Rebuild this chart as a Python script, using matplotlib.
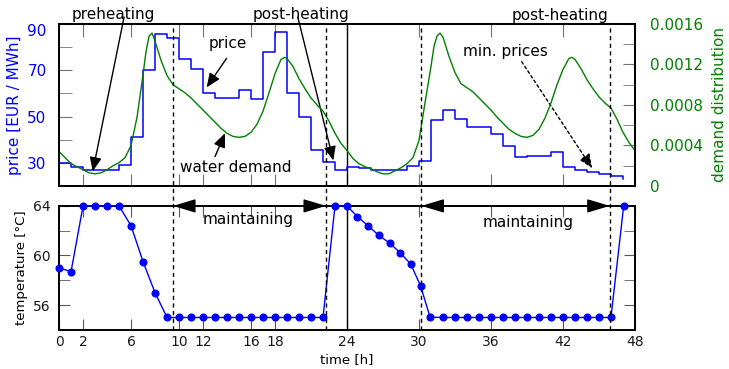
import numpy as np
import matplotlib
matplotlib.use("Agg")
import matplotlib.pyplot as plt
from matplotlib.lines import Line2D
from matplotlib.transforms import blended_transform_factory

# hourly electricity price (step held from each hour to the next)
price_hours = list(range(48))
price = [30, 28, 26.7, 27, 27, 29, 41, 70, 85.5, 84, 75, 70.4, 60, 58, 58, 61.4,
         57.7, 77.7, 86.4, 60, 50, 35.6, 30.4, 27,
         28.1, 27.8, 27.1, 26.7, 27.1, 28.5, 30.7, 48.6, 52.9, 49.1, 45.4, 45.4,
         42.3, 37.2, 32.6, 32.9, 32.9, 34.8, 28.3, 27.1, 25.9, 25.1, 24.5, 22.8]

# hot water demand distribution
demand_t = [0, 0.5, 1, 1.5, 2, 2.5, 3, 3.5, 4, 4.5, 5, 5.5, 6, 6.5, 7, 7.25, 7.5,
            7.75, 8, 8.5, 9, 9.5, 10, 10.5, 11, 11.5, 12, 12.5, 13, 13.5, 14, 14.5,
            15, 15.5, 16, 16.5, 17, 17.5, 18, 18.5, 18.8, 19, 19.5, 20, 20.5, 21,
            21.5, 22, 22.5, 23, 23.5,
            24, 24.5, 25, 25.5, 26, 26.5, 27, 27.5, 28, 28.5, 29, 29.5, 30, 30.5,
            31, 31.25, 31.5, 31.75, 32, 32.5, 33, 33.5, 34, 34.5, 35, 35.5, 36,
            36.5, 37, 37.5, 38, 38.5, 39, 39.5, 40, 40.5, 41, 41.5, 42, 42.5,
            42.75, 43, 43.5, 44, 44.5, 45, 45.5, 46, 46.5, 47, 47.5, 48]
demand = [0.00034, 0.00028, 0.00022, 0.00019, 0.00016, 0.00013, 0.00012, 0.00013,
          0.00016, 0.00020, 0.00023, 0.00028, 0.00040, 0.00068, 0.00110, 0.00133,
          0.00148, 0.00151, 0.00143, 0.00124, 0.00109, 0.00100, 0.00096, 0.00092,
          0.00087, 0.00081, 0.00075, 0.00069, 0.00063, 0.00057, 0.00052, 0.00049,
          0.00048, 0.00049, 0.00053, 0.00061, 0.00074, 0.00092, 0.00111, 0.00125,
          0.00127, 0.00126, 0.00118, 0.00106, 0.00096, 0.00087, 0.00080, 0.00074,
          0.00064, 0.00052, 0.00042,
          0.00035, 0.00027, 0.00022, 0.00019, 0.00017, 0.00014, 0.00012, 0.00012,
          0.00015, 0.00018, 0.00022, 0.00028, 0.00045, 0.00082, 0.00118, 0.00138,
          0.00148, 0.00151, 0.00147, 0.00128, 0.00112, 0.00101, 0.00097, 0.00093,
          0.00087, 0.00081, 0.00075, 0.00068, 0.00062, 0.00056, 0.00052, 0.00049,
          0.00048, 0.00050, 0.00056, 0.00067, 0.00082, 0.00100, 0.00115, 0.00126,
          0.00127, 0.00125, 0.00116, 0.00105, 0.00096, 0.00088, 0.00082, 0.00077,
          0.00066, 0.00053, 0.00043, 0.00035]

# storage temperature
temp_t = list(range(25)) + [24.86, 25.78, 26.64, 27.58, 28.42, 29.31, 30.14, 30.92] \
    + list(range(32, 47)) + [47.06]
temp = [59, 58.7, 64, 64, 64, 64, 62.4, 59.5, 57] + [55] * 14 + [64, 64] \
    + [63.14, 62.38, 61.63, 60.98, 60.23, 59.31, 57.53, 55.03] + [55] * 15 + [64]

# boundaries of the maintaining periods
maint_start = [9.5, 30.2]
maint_end = [22.25, 45.9]

fig = plt.figure(figsize=(7.29, 3.69), dpi=100)
ax1 = fig.add_axes([0.081, 0.496, 0.790, 0.439])
ax3 = fig.add_axes([0.081, 0.106, 0.790, 0.336])
ax2 = ax1.twinx()

blue = (0, 0, 1)
green = "#008000"

ax1.step(price_hours, price, where="post", color=blue, lw=1.1, zorder=3)
ax2.plot(demand_t, demand, color=green, lw=1.0)

ax1.set_xlim(0, 48)
ax1.set_ylim(20, 90)
ax2.set_ylim(0, 0.0016)
ax1.set_yticks([30, 50, 70, 90])
ax1.set_yticklabels(["30", "50", "70", ""])
ax1.set_yticks([40, 60, 80], minor=True)
ax2.set_yticks([0, 0.0004, 0.0008, 0.0012, 0.0016])
ax2.set_yticklabels(["0", "0.0004", "0.0008", "0.0012", "0.0016"])
ax2.set_yticks([0.0002, 0.0006, 0.0010, 0.0014], minor=True)

# top label of the price axis sits a little below its tick
ax1.annotate("90", xy=(0, 90), xycoords=ax1.get_yaxis_transform(),
             xytext=(-12.5, -7.5), textcoords="offset pixels",
             ha="right", va="center", color=blue, fontsize=11)

xt = [0, 2, 6, 10, 12, 16, 18, 24, 30, 36, 42, 48]
ax1.set_xticks(xt)
ax1.set_xticklabels([])
ax1.set_ylabel("price [EUR / MWh]", color=blue, fontsize=11, labelpad=4)
ax2.set_ylabel("demand distribution", color=green, fontsize=11, labelpad=6)
ax1.tick_params(axis="y", which="both", colors="0.45", labelcolor=blue,
                labelsize=11, direction="in", length=9, pad=9, left=True, right=False)
ax2.tick_params(axis="y", which="both", colors="0.45", labelcolor=green,
                labelsize=11, direction="in", length=9, pad=11)
ax1.tick_params(axis="x", which="both", colors="0.45", direction="in",
                length=9, top=True)

ax3.plot(temp_t, temp, color=blue, lw=1.0, marker="o", ms=4.8, clip_on=False, zorder=4)
ax3.set_xlim(0, 48)
ax3.set_ylim(54, 64)
ax3.set_xticks(xt)
ax3.set_yticks([56, 60, 64])
ax3.set_yticks([58, 62], minor=True)
ax3.tick_params(which="both", direction="in", length=8, colors="0.35",
                labelcolor="0.1", labelsize=10, top=True, right=True)
ax3.tick_params(axis="y", pad=6)
ax3.set_ylabel("temperature [°C]", fontsize=9.5, labelpad=4)
ax3.set_xlabel("time [h]", fontsize=9.5, labelpad=3)

for ax in (ax1, ax2, ax3):
    for sp in ax.spines.values():
        sp.set_linewidth(1.4)

# day boundary
ax1.axvline(24, color="k", lw=1.0)
ax3.axvline(24, color="k", lw=1.0)

# dashed markers spanning both panels
trans = blended_transform_factory(ax1.transData, fig.transFigure)
y_lo = ax3.get_position().y0
y_hi = ax1.get_position().y1
for x in maint_start + maint_end:
    fig.add_artist(Line2D([x, x], [y_lo, y_hi], transform=trans,
                          color="k", lw=1.0, ls=(0, (3, 2.5))))

# maintaining arrows
for a, b in zip(maint_start, maint_end):
    ax3.annotate("", xy=(b, 64), xytext=(a, 64), annotation_clip=False,
                 arrowprops=dict(arrowstyle="<|-|>,head_length=1.0,head_width=0.3",
                                 mutation_scale=14, color="k", lw=1.0,
                                 shrinkA=0, shrinkB=0))
ax3.text(15.8, 62.87, "maintaining", ha="center", va="center", fontsize=11)
ax3.text(39.1, 62.7, "maintaining", ha="center", va="center", fontsize=11)

arrow_kw = dict(arrowstyle="-|>,head_length=0.85,head_width=0.36",
                mutation_scale=10, color="k", lw=1.0, shrinkA=0, shrinkB=0)

ax1.text(4.5, 94.3, "preheating", ha="center", va="center", fontsize=11)
ax1.annotate("", xy=(2.81, 26.3), xytext=(5.42, 93.0), annotation_clip=False,
             arrowprops=arrow_kw)

ax1.text(20.2, 94.3, "post-heating", ha="center", va="center", fontsize=11)
ax1.annotate("", xy=(22.86, 31.0), xytext=(19.9, 93.0), annotation_clip=False,
             arrowprops=arrow_kw)

ax1.text(41.75, 93.5, "post-heating", ha="center", va="center", fontsize=11)

ax1.text(14.1, 81.4, "price", ha="center", va="center", fontsize=11, zorder=5)
ax1.annotate("", xy=(12.3, 62.6), xytext=(13.97, 75.2), arrowprops=arrow_kw)

ax1.text(14.75, 27.8, "water demand", ha="center", va="center", fontsize=11)
ax1.annotate("", xy=(13.83, 42.8), xytext=(13.0, 32.7), arrowprops=arrow_kw)

ax1.text(37.2, 77.9, "min. prices", ha="center", va="center", fontsize=11)
dotted_kw = dict(arrow_kw)
dotted_kw["linestyle"] = (0, (2, 2))
ax1.annotate("", xy=(44.44, 27.6), xytext=(38.56, 73.7), arrowprops=dotted_kw)

fig.savefig("out.png", dpi=100)
